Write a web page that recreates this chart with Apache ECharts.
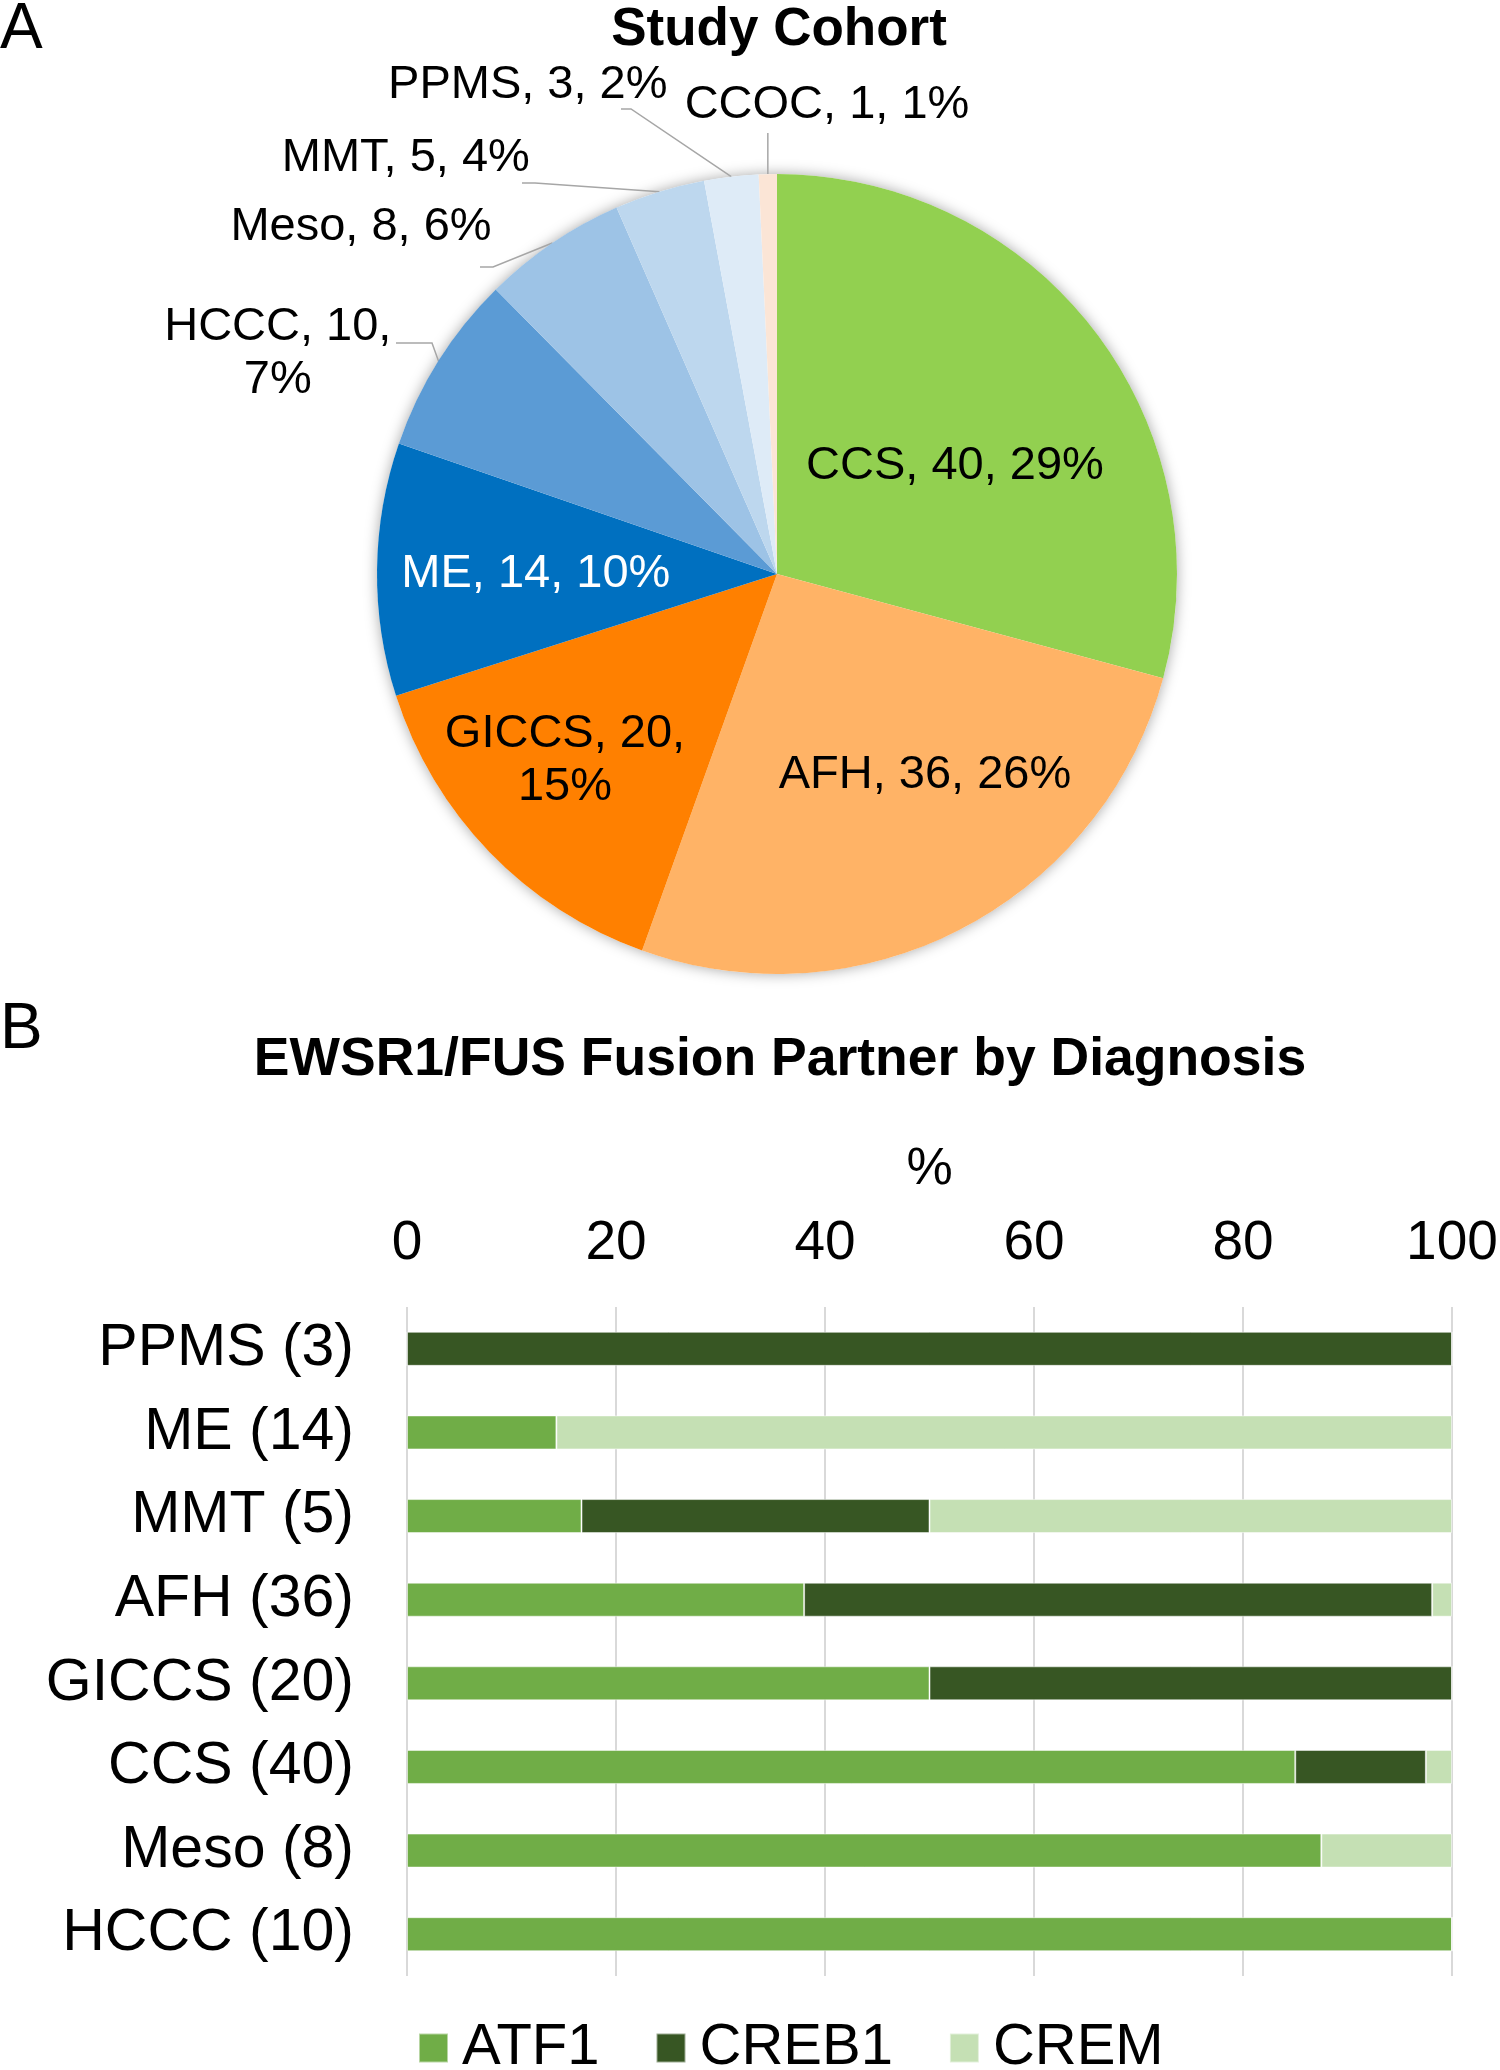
<!DOCTYPE html>
<html>
<head>
<meta charset="utf-8">
<script src="https://cdn.jsdelivr.net/npm/echarts@6/dist/echarts.min.js"></script>
<style>
html,body{margin:0;padding:0;background:#fff;}
#chart{width:1500px;height:2070px;}
</style>
</head>
<body>
<div id="chart"></div>
<script>
// ---------- Data: panel A (pie) ----------
const pieNames  = ['CCS', 'AFH', 'GICCS', 'ME', 'HCCC', 'Meso', 'MMT', 'PPMS', 'CCOC'];
const pieValues = [40, 36, 20, 14, 10, 8, 5, 3, 1];
const pieColors = ['#92D050', '#FFB366', '#FF8000', '#0070C0', '#5B9BD5', '#9DC3E6', '#BDD7EE', '#DEEBF7', '#FBE5D6'];

// ---------- Data: panel B (stacked bars, %) ----------
const categories = ['PPMS (3)', 'ME (14)', 'MMT (5)', 'AFH (36)', 'GICCS (20)', 'CCS (40)', 'Meso (8)', 'HCCC (10)'];
const atf1  = [0, 14.3, 16.7, 38.0, 50, 85, 87.5, 100];
const creb1 = [100, 0, 33.3, 60.1, 50, 12.5, 0, 0];
const crem  = [0, 85.7, 50, 1.9, 0, 2.5, 12.5, 0];
const xTicks = [0, 20, 40, 60, 80, 100];

// ---------- Layout / style ----------
const FONT = 'Liberation Sans, Arial, sans-serif';
const CX = 777, CY = 574, R = 400;
const LABEL_DY = 3;
const insideNames = ['CCS', 'AFH', 'GICCS', 'ME'];
const wrapNames = ['GICCS', 'HCCC'];
// label centre offsets in units of radius
const labelOffsets = {
  CCS: [0.445, -0.278], AFH: [0.37, 0.495], GICCS: [-0.53, 0.46], ME: [-0.603, -0.008],
  HCCC: [-1.248, -0.558], Meso: [-1.04, -0.875], MMT: [-0.928, -1.048],
  PPMS: [-0.623, -1.23], CCOC: [0.125, -1.18]
};
// leader line knee points in units of radius (null x = keep edge x)
const leaderKnees = {
  HCCC: [[-0.8625, -0.5775], [-0.9525, -0.5775]],
  Meso: [[-0.71, -0.7675], [-0.7425, -0.7675]],
  MMT:  [[-0.605, -0.9775], [-0.6375, -0.9775]],
  PPMS: [[-0.365, -1.1625], [-0.39, -1.1625]],
  CCOC: [[null, -1.1025]]
};

const total = pieValues.reduce((a, b) => a + b, 0);

const pieData = pieNames.map((n, i) => {
  const inside = insideNames.indexOf(n) >= 0;
  return {
    name: n,
    value: pieValues[i],
    itemStyle: { color: pieColors[i] },
    label: {
      position: inside ? 'inside' : 'outside',
      color: n === 'ME' ? '#ffffff' : '#000000'
    },
    labelLine: { show: !inside }
  };
});

const chart = echarts.init(document.getElementById('chart'), null, { renderer: 'canvas' });

const option = {
  backgroundColor: '#ffffff',
  animation: false,
  textStyle: { fontFamily: FONT },
  graphic: [
    { type: 'text', x: 0, y: 30, style: { text: 'A', fontSize: 64, fontFamily: FONT, fill: '#000', align: 'left', verticalAlign: 'middle' } },
    { type: 'text', x: 779, y: 30, style: { text: 'Study Cohort', fontSize: 53, fontWeight: 'bold', fontFamily: FONT, fill: '#000', align: 'center', verticalAlign: 'middle' } },
    { type: 'text', x: 0, y: 1030, style: { text: 'B', fontSize: 64, fontFamily: FONT, fill: '#000', align: 'left', verticalAlign: 'middle' } },
    { type: 'text', x: 780, y: 1060, style: { text: 'EWSR1/FUS Fusion Partner by Diagnosis', fontSize: 53.5, fontWeight: 'bold', fontFamily: FONT, fill: '#000', align: 'center', verticalAlign: 'middle' } }
  ],
  legend: {
    data: ['ATF1', 'CREB1', 'CREM'],
    left: 413,
    top: 2014,
    orient: 'horizontal',
    itemWidth: 29,
    itemHeight: 29,
    itemGap: 56,
    icon: 'rect',
    textStyle: { fontSize: 58, color: '#000', fontFamily: FONT, padding: [0, 0, 0, 9] }
  },
  grid: {
    left: 407, right: 48, top: 1307, height: 669,
    outerBoundsMode: 'none', containLabel: false
  },
  xAxis: {
    type: 'value',
    position: 'top',
    min: 0, max: 100, interval: 20,
    name: '%',
    nameLocation: 'middle',
    nameGap: 111,
    nameTextStyle: { fontSize: 52, color: '#000', fontFamily: FONT },
    axisLine: { show: false },
    axisTick: { show: false },
    axisLabel: { fontSize: 55, color: '#000', margin: 36, fontFamily: FONT,
      formatter: v => (xTicks.indexOf(v) >= 0 ? String(v) : '') },
    splitLine: { show: true, lineStyle: { color: '#d9d9d9', width: 2 } }
  },
  yAxis: {
    type: 'category',
    data: categories,
    inverse: true,
    axisLine: { show: false },
    axisTick: { show: false },
    axisLabel: { fontSize: 59, color: '#000', margin: 53, fontFamily: FONT },
    splitLine: { show: false }
  },
  series: [
    // soft shadow disc under the pie
    {
      type: 'pie', silent: true, center: [CX, CY], radius: R, z: 1,
      label: { show: false }, labelLine: { show: false },
      itemStyle: { color: '#ffffff', shadowBlur: 14, shadowColor: 'rgba(0,0,0,0.35)' },
      data: [{ value: total, name: 'shadow' }],
      tooltip: { show: false }
    },
    {
      type: 'pie',
      center: [CX, CY],
      radius: R,
      startAngle: 90,
      clockwise: true,
      z: 3,
      avoidLabelOverlap: false,
      itemStyle: { borderWidth: 0 },
      label: {
        show: true,
        fontSize: 47,
        lineHeight: 53,
        fontFamily: FONT,
        formatter: p => {
          const pct = Math.round(p.value / total * 100);
          return wrapNames.indexOf(p.name) >= 0
            ? p.name + ', ' + p.value + ',\n' + pct + '%'
            : p.name + ', ' + p.value + ', ' + pct + '%';
        }
      },
      labelLine: { show: true, lineStyle: { color: '#a6a6a6', width: 1.5 } },
      labelLayout: function (params) {
        const n = pieNames[params.dataIndex];
        const o = labelOffsets[n];
        const res = { x: CX + o[0] * R, y: CY + o[1] * R + LABEL_DY, align: 'center', verticalAlign: 'middle' };
        const knees = leaderKnees[n];
        if (knees && params.labelLinePoints && params.labelLinePoints.length) {
          const p0 = [params.labelLinePoints[0][0], params.labelLinePoints[0][1]];
          const pts = [p0];
          knees.forEach(k => {
            pts.push([k[0] === null ? p0[0] : CX + k[0] * R, CY + k[1] * R]);
          });
          if (pts.length === 2) pts.push(pts[1].slice());
          res.labelLinePoints = pts;
        }
        return res;
      },
      data: pieData
    },
    {
      name: 'ATF1', type: 'bar', stack: 'total', data: atf1, barWidth: 34,
      itemStyle: { color: '#70AD47', borderColor: 'rgba(255,255,255,0.5)', borderWidth: 1 }
    },
    {
      name: 'CREB1', type: 'bar', stack: 'total', data: creb1, barWidth: 34,
      itemStyle: { color: '#375623', borderColor: 'rgba(255,255,255,0.5)', borderWidth: 1 }
    },
    {
      name: 'CREM', type: 'bar', stack: 'total', data: crem, barWidth: 34,
      itemStyle: { color: '#C5E0B4', borderColor: 'rgba(255,255,255,0.5)', borderWidth: 1 }
    }
  ]
};

chart.setOption(option);
</script>
</body>
</html>
